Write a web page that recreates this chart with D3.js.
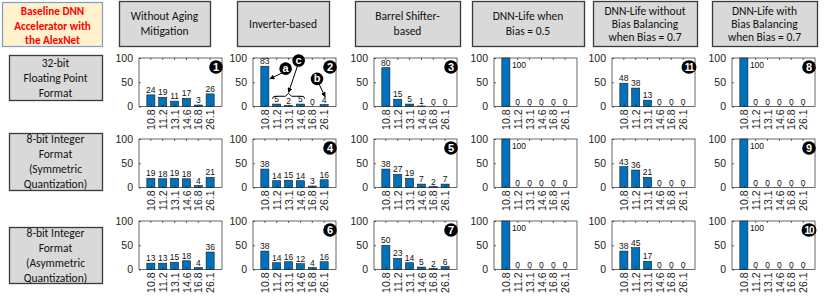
<!DOCTYPE html>
<html>
<head>
<meta charset="utf-8">
<script src="https://cdn.jsdelivr.net/npm/d3@7"></script>
<style>
  body { margin: 0; background: #fff; }
  svg { display: block; }
</style>
</head>
<body>
<svg id="chart" width="830" height="298"></svg>
<script>
// data
const categories = ["10.8", "11.2", "13.1", "14.6", "16.8", "26.1"];

const colTitles = [
    ["Without Aging", "Mitigation"],
    ["Inverter-based"],
    ["Barrel Shifter-", "based"],
    ["DNN-Life when", "Bias = 0.5"],
    ["DNN-Life without", "Bias Balancing", "when Bias = 0.7"],
    ["DNN-Life with", "Bias Balancing", "when Bias = 0.7"]
];

const rowTitles = [
    ["32-bit", "Floating Point", "Format"],
    ["8-bit Integer", "Format", "(Symmetric", "Quantization)"],
    ["8-bit Integer", "Format", "(Asymmetric", "Quantization)"]
];

const cornerTitle = ["Baseline DNN", "Accelerator with", "the AlexNet"];

const floatValues = [
    [24, 19, 11, 17, 3, 26],
    [83, 5, 2, 5, 0, 4],
    [80, 15, 5, 1, 0, 0],
    [100, 0, 0, 0, 0, 0],
    [48, 38, 13, 0, 0, 0],
    [100, 0, 0, 0, 0, 0]
];
const symValues = [
    [19, 18, 19, 18, 4, 21],
    [38, 14, 15, 14, 3, 16],
    [38, 27, 19, 7, 2, 7],
    [100, 0, 0, 0, 0, 0],
    [43, 36, 21, 0, 0, 0],
    [100, 0, 0, 0, 0, 0]
];
const asymValues = [
    [13, 13, 15, 18, 4, 36],
    [38, 14, 16, 12, 4, 16],
    [50, 23, 14, 5, 2, 6],
    [100, 0, 0, 0, 0, 0],
    [38, 45, 17, 0, 0, 0],
    [100, 0, 0, 0, 0, 0]
];
const badges = [
    ["1", "2", "3", null, "11", "8"],
    [null, "4", "5", null, null, "9"],
    [null, "6", "7", null, null, "10"]
];
const yTicks = [0, 50, 100];

// layout
const colLeft = [139, 253, 374, 494, 612, 732],
    panelW = 83,
    rowTop = [58, 139, 221],
    panelH = 48.5;
const headerBoxes = [[119, 210], [237, 329], [355, 460], [472, 584], [593, 697], [712, 817]];
const rowBoxes = [[55, 100], [133, 190], [227, 283]];

const headFont = "Carlito, Lato, 'Open Sans', sans-serif";
const axFont = "'Liberation Sans', Arial, Helvetica, sans-serif";
const barBlue = "#0072BD";

const svg = d3.select("#chart");

// corner box
const corner = svg.append("g");
corner.append("rect")
    .attr("x", 2.5).attr("y", 2.5).attr("width", 100).attr("height", 44)
    .attr("fill", "#fff2cc").attr("stroke", "#7f9ccb").attr("stroke-width", 1.2);
corner.selectAll("text").data(cornerTitle).join("text")
    .attr("x", 52.5)
    .attr("y", (d, i) => 11.5 + i * 14.5)
    .attr("dy", "0.35em")
    .attr("text-anchor", "middle")
    .attr("font-family", headFont).attr("font-weight", "bold")
    .attr("font-size", 11.2).attr("fill", "#ff0000")
    .text(d => d);

// gray label box
const grayBox = (x0, x1, y0, y1, lines, lineH) => {
    const g = svg.append("g");
    g.append("rect")
        .attr("x", x0 + 0.5).attr("y", y0 + 0.5)
        .attr("width", x1 - x0).attr("height", y1 - y0)
        .attr("fill", "#d9d9d9").attr("stroke", "#3a3a3a").attr("stroke-width", 1.3);
    const cy = (y0 + y1) / 2;
    const first = cy - (lines.length - 1) * lineH / 2;
    g.selectAll("text").data(lines).join("text")
        .attr("x", (x0 + x1) / 2)
        .attr("y", (d, i) => first + i * lineH)
        .attr("dy", "0.35em")
        .attr("text-anchor", "middle")
        .attr("font-family", headFont).attr("font-size", 11.5).attr("fill", "#111")
        .text(d => d);
};

colTitles.forEach((t, i) => {
    grayBox(headerBoxes[i][0], headerBoxes[i][1], 1, 46, t, t.length > 2 ? 13 : 15.5);
});
rowTitles.forEach((t, i) => {
    grayBox(9, 102, rowBoxes[i][0], rowBoxes[i][1], t, 15);
});

// panels
const rowValues = [floatValues, symValues, asymValues];

rowValues.forEach((vals, r) => {
    vals.forEach((series, c) => {
        const left = colLeft[c], top = rowTop[r];
        const x = d3.scaleLinear().domain([0, 7]).range([left, left + panelW]);
        const y = d3.scaleLinear().domain([0, 100]).range([top + panelH, top]);
        const bw = (x(1) - x(0)) * 0.68;
        const g = svg.append("g");

        g.append("rect")
            .attr("x", left).attr("y", top)
            .attr("width", panelW).attr("height", panelH)
            .attr("fill", "#fff").attr("stroke", "#262626").attr("stroke-width", 0.7);

        // top tick marks
        g.selectAll(".tt").data(d3.range(1, 7)).join("line")
            .attr("x1", d => x(d)).attr("x2", d => x(d))
            .attr("y1", top).attr("y2", top + 2)
            .attr("stroke", "#262626").attr("stroke-width", 0.7);

        // bars
        g.selectAll(".bar").data(series).join("rect")
            .attr("x", (d, i) => x(i + 1) - bw / 2)
            .attr("y", d => y(d))
            .attr("width", bw)
            .attr("height", d => y(0) - y(d))
            .attr("fill", barBlue)
            .attr("stroke", "#1a1a1a").attr("stroke-width", 0.6);

        // value labels
        g.selectAll(".val").data(series).join("text")
            .attr("x", (d, i) => d >= 95 ? x(i + 1) + bw / 2 + 2 : x(i + 1))
            .attr("y", d => d >= 95 ? y(100) + 10 : y(d) - 2)
            .attr("text-anchor", d => d >= 95 ? "start" : "middle")
            .attr("font-family", axFont).attr("font-size", 8.5).attr("fill", "#111")
            .text(d => d);

        // x axis
        const xa = g.append("g")
            .attr("transform", `translate(0,${top + panelH})`)
            .call(d3.axisBottom(x).tickValues(d3.range(1, 7))
                .tickFormat(d => categories[d - 1]).tickSizeInner(-2).tickSizeOuter(0));
        xa.select(".domain").remove();
        xa.selectAll("line").attr("stroke", "#262626").attr("stroke-width", 0.7);
        xa.selectAll("text")
            .attr("font-family", axFont).attr("font-size", 10.5).attr("fill", "#222")
            .attr("transform", "rotate(-90)")
            .attr("x", -3).attr("y", 0).attr("dy", "0.35em")
            .attr("text-anchor", "end");

        // y axis
        const ya = g.append("g")
            .attr("transform", `translate(${left},0)`)
            .call(d3.axisLeft(y).tickValues(yTicks).tickSizeInner(-2).tickSizeOuter(0).tickPadding(6));
        ya.select(".domain").remove();
        ya.selectAll("line").attr("stroke", "#262626").attr("stroke-width", 0.7);
        ya.selectAll("text")
            .attr("font-family", axFont).attr("font-size", 10.5).attr("fill", "#222");

        // badge
        const b = badges[r][c];
        if (b) {
            const bx = left + panelW - 6, by = top + 9;
            g.append("ellipse")
                .attr("cx", bx).attr("cy", by)
                .attr("rx", b.length > 1 ? 7.5 : 6.8).attr("ry", 6.8)
                .attr("fill", "#000");
            g.append("text")
                .attr("x", bx).attr("y", by).attr("dy", "0.36em")
                .attr("text-anchor", "middle")
                .attr("font-family", axFont).attr("font-weight", "bold")
                .attr("font-size", b.length > 1 ? 10 : 11)
                .attr("letter-spacing", b.length > 1 ? -1 : 0)
                .attr("fill", "#fff")
                .text(b);
        }

        // annotations on the inverter-based panel
        if (r === 0 && c === 1) {
            const ann = g.append("g");
            const defs = svg.append("defs");
            defs.append("marker")
                .attr("id", "arrowHead")
                .attr("viewBox", "0 0 10 10").attr("refX", 9).attr("refY", 5)
                .attr("markerWidth", 5).attr("markerHeight", 5).attr("orient", "auto")
                .append("path").attr("d", "M0,0L10,5L0,10z").attr("fill", "#000");

            const circ = (cx, cy, t) => {
                ann.append("circle").attr("cx", cx).attr("cy", cy).attr("r", 6.3).attr("fill", "#000");
                ann.append("text").attr("x", cx).attr("y", cy).attr("dy", "0.33em")
                    .attr("text-anchor", "middle")
                    .attr("font-family", axFont).attr("font-weight", "bold")
                    .attr("font-size", 11).attr("fill", "#fff").text(t);
            };
            // a -> first bar
            ann.append("line")
                .attr("x1", x(2.6)).attr("y1", y(71))
                .attr("x2", x(1) + bw / 2 + 1).attr("y2", y(57))
                .attr("stroke", "#000").attr("stroke-width", 1)
                .attr("marker-end", "url(#arrowHead)");
            // brace under c
            const bl = x(2) - bw / 2, br = x(4) + bw / 2, bm = (bl + br) / 2;
            const by0 = y(22), by1 = y(17);
            ann.append("path")
                .attr("d", `M${bl},${by0 + 3}L${bl},${by1}Q${bl},${by1 - 2} ${bl + 3},${by1 - 2}` +
                    `L${bm - 3},${by1 - 2}L${bm},${by1 - 5}L${bm + 3},${by1 - 2}` +
                    `L${br - 3},${by1 - 2}Q${br},${by1 - 2} ${br},${by1}L${br},${by0 + 3}`)
                .attr("fill", "none").attr("stroke", "#000").attr("stroke-width", 1);
            ann.append("line")
                .attr("x1", x(3.8)).attr("y1", y(87))
                .attr("x2", bm).attr("y2", y(17) - 6)
                .attr("stroke", "#000").attr("stroke-width", 1)
                .attr("marker-end", "url(#arrowHead)");
            // b -> last bar
            ann.append("line")
                .attr("x1", x(5.5)).attr("y1", y(50))
                .attr("x2", x(6) + 1).attr("y2", y(20))
                .attr("stroke", "#000").attr("stroke-width", 1)
                .attr("marker-end", "url(#arrowHead)");
            circ(x(2.75), y(78), "a");
            circ(x(3.85), y(95), "c");
            circ(x(5.4), y(57), "b");
        }
    });
});
</script>
</body>
</html>
